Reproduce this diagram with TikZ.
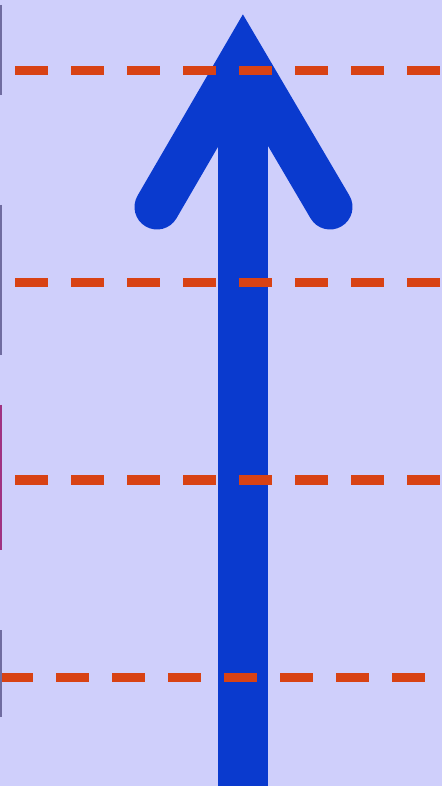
\documentclass[tikz,border=0pt]{standalone}
\usepackage{xcolor}
\usepackage{tikz}
\usetikzlibrary{calc}
\definecolor{BgLilac}{RGB}{207,207,251}
\definecolor{ArrowBlue}{RGB}{10,58,206}
\definecolor{DashRed}{RGB}{216,66,20}
\definecolor{EdgeGray}{RGB}{112,108,160}
\definecolor{EdgePink}{RGB}{160,50,130}

\begin{document}
\begin{tikzpicture}[x=0.01cm, y=-0.01cm,
		level/.style={DashRed, line width=0.09cm, dash pattern=on 0.33cm off 0.23cm},
		edgebar/.style={line width=0.025cm}]
		\fill[BgLilac] (0,0) rectangle (442,786);
		\useasboundingbox (0,0) rectangle (442,786);
		% arrow
		\coordinate (base) at (243,786);
		\coordinate (tip) at (243,59);
		\coordinate (wingL) at (157,207);
		\coordinate (wingR) at (330,207);
		\draw[ArrowBlue, line width=0.5cm] (base) -- (243,75);
		\draw[ArrowBlue, line width=0.45cm, line cap=round, line join=miter] (wingL) -- (tip) -- (wingR);
		% levels
		\draw[level] (15,71) -- (442,71);
		\draw[level] (15,283) -- (442,283);
		\draw[level] (15,480) -- (442,480);
		\draw[level] (0,677) -- (425,677);
		% edge marks
		\draw[edgebar, EdgeGray] (1,5) -- (1,95);
		\draw[edgebar, EdgeGray] (1,205) -- (1,355);
		\draw[edgebar, EdgePink] (1,405) -- (1,550);
		\draw[edgebar, EdgeGray] (1,630) -- (1,717);
	\end{tikzpicture}
\end{document}
